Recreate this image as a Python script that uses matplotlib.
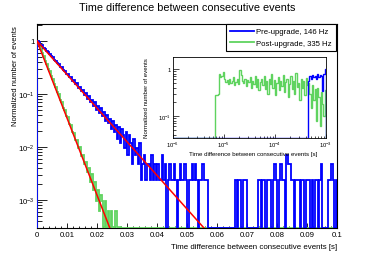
import numpy as np
import matplotlib
matplotlib.use("Agg")
import matplotlib.pyplot as plt
from matplotlib.lines import Line2D
from matplotlib.ticker import FixedLocator, NullFormatter, LogLocator

plt.rcParams['font.family'] = ['Liberation Sans', 'DejaVu Sans']
plt.rcParams['mathtext.fontset'] = 'custom'
plt.rcParams['mathtext.rm'] = 'Liberation Sans'
plt.rcParams['mathtext.it'] = 'Liberation Sans:italic'
plt.rcParams['mathtext.bf'] = 'Liberation Sans:bold'

# ---------------- data ----------------
title = "Time difference between consecutive events"
xlabel = "Time difference between consecutive events [s]"
ylabel = "Normalized number of events"
label_pre = "Pre-upgrade, 146 Hz"
label_post = "Post-upgrade, 335 Hz"

# main histograms: 200 bins of 0.5 ms from 0 to 0.1 s (raw counts)
pre_counts = [417, 392, 351, 344, 309, 292, 266, 254, 235, 219,
              204, 183, 176, 158, 155, 134, 133, 116, 115, 99,
              101, 86, 87, 73, 76, 64, 66, 54, 57, 47,
              49, 40, 44, 33, 38, 30, 32, 25, 29, 21,
              25, 18, 23, 16, 19, 13, 17, 12, 14, 9,
              13, 8, 11, 6, 10, 5, 9, 7, 4, 8,
              3, 7, 5, 2, 6, 3, 4, 2, 5, 1,
              2, 3, 1, 2, 2, 1, 3, 1, 2, 1,
              2, 1, 1, 3, 1, 2, 0, 1, 2, 1,
              1, 2, 1, 0, 1, 2, 1, 1, 2, 1,
              0, 1, 1, 2, 1, 2, 1, 0, 1, 1,
              2, 1, 1, 1, 0, 0, 0, 0, 0, 0,
              0, 0, 0, 0, 0, 0, 0, 0, 0, 0,
              0, 0, 1, 0, 1, 1, 0, 1, 1, 1,
              0, 0, 0, 0, 0, 0, 0, 1, 1, 0,
              1, 1, 0, 1, 1, 1, 0, 1, 2, 1,
              0, 1, 2, 1, 1, 0, 3, 2, 2, 1,
              1, 0, 1, 1, 1, 0, 1, 1, 0, 1,
              1, 1, 0, 1, 0, 1, 1, 0, 1, 2,
              0, 0, 0, 0, 1, 1, 2, 1, 0, 1]
post_counts = [3200, 2660, 2330, 1890, 1670, 1350, 1190, 960, 850, 690,
               612, 490, 440, 348, 318, 246, 226, 175, 162, 124,
               117, 88, 84, 62, 60, 44, 43, 31, 32, 22,
               23, 15, 17, 11, 13, 7, 10, 5, 7, 3,
               5, 2, 4, 3, 1, 3, 0, 2, 1, 2,
               1, 0, 2, 1, 0, 1, 0, 0, 0, 0] + [0] * 140

# fitted exponentials (start/end points; straight lines on log scale)
fit_pre_t = [0.0, 0.06]
fit_pre_y = [1.0, 1.57e-4]
fit_post_t = [0.0, 0.026]
fit_post_y = [1.0, 1.66e-4]

# inset: 120 log bins from 1e-6 to 1e-3 s (normalized)
inset_post = ([0.0] * 33 +
              [0.28, 0.28, 0.29,
               0.78, 0.66, 0.72, 0.86, 0.60, 0.52,
               0.58, 0.47, 0.62, 0.50, 0.55, 0.68, 0.45, 0.52, 0.60, 0.48, 0.95, 0.74, 0.56, 0.50,
               0.62, 0.44, 0.58, 0.52, 0.66, 0.40, 0.55, 0.48, 0.70, 0.42, 0.60, 0.35, 0.52, 0.62,
               0.45, 0.72, 0.38, 0.55, 0.30, 0.62, 0.48, 0.80, 0.40, 0.58, 0.28, 0.50, 0.68, 0.36, 0.55, 0.44,
               0.75, 0.32, 0.52, 0.60, 0.25, 0.48, 0.70, 0.38, 0.56, 0.30, 0.82, 0.42, 0.50, 0.22, 0.62, 0.40,
               0.55, 0.28, 0.65, 0.45,
               0.50, 0.30, 0.15, 0.45, 0.22, 0.38, 0.08, 0.40, 0.25, 0.06, 0.32, 0.18, 0.10, 0.35])
inset_pre = ([0.0] * 106 +
             [0.55, 0.70, 0.62, 0.74, 0.66, 0.72, 0.60, 0.78, 0.68, 0.75, 0.70, 0.34, 0.80, 1.0])

main_ticks_y = [1e-3, 1e-2, 1e-1, 1]
main_ticklabels_y = ['$10^{-3}$', '$10^{-2}$', '$10^{-1}$', '1']
main_ticks_x = [0, 0.01, 0.02, 0.03, 0.04, 0.05, 0.06, 0.07, 0.08, 0.09, 0.1]
main_ticklabels_x = ['0', '0.01', '0.02', '0.03', '0.04', '0.05', '0.06', '0.07', '0.08', '0.09', '0.1']
inset_ticks_x = [1e-6, 1e-5, 1e-4, 1e-3]
inset_ticklabels_x = ['$10^{-6}$', '$10^{-5}$', '$10^{-4}$', '$10^{-3}$']
inset_ticks_y = [1e-1, 1]
inset_ticklabels_y = ['$10^{-1}$', '1']

# ---------------- styles ----------------
BLUE = '#0000ff'
GREEN = '#5fd35f'
RED = '#ff0000'
W, H = 374, 255
MAIN_YMIN, MAIN_YMAX = 2.96e-4, 2.09
INS_YMIN, INS_YMAX = 0.034, 1.8

fig = plt.figure(figsize=(W / 100, H / 100), dpi=100)
fig.patch.set_facecolor('white')

# main axes
ax = fig.add_axes([37 / W, 1 - 229 / H, 300 / W, 204 / H])
edges = np.linspace(0, 0.1, len(pre_counts) + 1)
pre_norm = np.array(pre_counts, float) / pre_counts[0]
post_norm = np.array(post_counts, float) / post_counts[0]
pre_plot = np.maximum(pre_norm, MAIN_YMIN)
post_plot = np.maximum(post_norm, MAIN_YMIN)

ax.stairs(post_plot, edges, baseline=MAIN_YMIN, color=GREEN, lw=1.3, zorder=3)
ax.stairs(pre_plot, edges, baseline=MAIN_YMIN, color=BLUE, lw=1.3, zorder=3.2)
ax.plot(fit_pre_t, fit_pre_y, color=RED, lw=1.1, zorder=4)
ax.plot(fit_post_t, fit_post_y, color=RED, lw=1.1, zorder=4)

ax.set_yscale('log')
ax.set_xlim(0, 0.1)
ax.set_ylim(MAIN_YMIN, MAIN_YMAX)
ax.set_xticks(main_ticks_x)
ax.set_xticklabels(main_ticklabels_x)
ax.xaxis.set_minor_locator(FixedLocator(np.arange(0, 0.1001, 0.002)))
ax.set_yticks(main_ticks_y)
ax.set_yticklabels(main_ticklabels_y)
ax.yaxis.set_minor_locator(LogLocator(base=10, subs=np.arange(2, 10)))
ax.yaxis.set_minor_formatter(NullFormatter())
ax.tick_params(which='both', direction='in', top=False, right=False, width=0.6, labelsize=5.6)
ax.tick_params(axis='x', which='major', length=3.6, pad=2)
ax.tick_params(axis='x', which='minor', length=1.8)
ax.tick_params(axis='y', which='major', length=7, pad=1.5)
ax.tick_params(axis='y', which='minor', length=3.6)
for s in ax.spines.values():
    s.set_linewidth(0.8)

fig.text(187 / W, 1 - 8 / H, title, ha='center', va='center', fontsize=7.8)
fig.text(337 / W, 1 - 248 / H, xlabel, ha='right', va='center', fontsize=5.7)
fig.text(16 / W, 1 - 26 / H, ylabel, ha='center', va='top', rotation=90, fontsize=5.5)

# legend
handles = [Line2D([], [], color=BLUE, lw=1.3), Line2D([], [], color=GREEN, lw=1.3)]
leg = fig.legend(handles, [label_pre, label_post], loc='upper right',
                 bbox_to_anchor=(336 / W, 1 - 25 / H), bbox_transform=fig.transFigure,
                 borderaxespad=0, frameon=True, fancybox=False, edgecolor='black',
                 framealpha=1, fontsize=5.6, handlelength=3.1, handletextpad=0.35,
                 borderpad=0.5, labelspacing=0.55)
leg.get_frame().set_linewidth(0.8)

# inset
ax2 = fig.add_axes([173 / W, 1 - 139 / H, 153 / W, 81 / H])
ax2.set_facecolor('white')
iedges = np.logspace(-6, -3, len(inset_post) + 1)
ipost = np.maximum(np.array(inset_post, float), INS_YMIN)
ipre = np.maximum(np.array(inset_pre, float), INS_YMIN)
ax2.stairs(ipost, iedges, baseline=INS_YMIN, color=GREEN, lw=1.0, zorder=3)
ax2.stairs(ipre, iedges, baseline=INS_YMIN, color=BLUE, lw=1.0, zorder=3.2)
ax2.set_xscale('log')
ax2.set_yscale('log')
ax2.set_xlim(1e-6, 1e-3)
ax2.set_ylim(INS_YMIN, INS_YMAX)
ax2.set_xticks(inset_ticks_x)
ax2.set_xticklabels(inset_ticklabels_x)
ax2.set_yticks(inset_ticks_y)
ax2.set_yticklabels(inset_ticklabels_y)
ax2.xaxis.set_minor_locator(LogLocator(base=10, subs=np.arange(2, 10)))
ax2.xaxis.set_minor_formatter(NullFormatter())
ax2.yaxis.set_minor_locator(LogLocator(base=10, subs=np.arange(2, 10)))
ax2.yaxis.set_minor_formatter(NullFormatter())
ax2.tick_params(which='both', direction='in', top=False, right=False, width=0.5, labelsize=4.2)
ax2.tick_params(axis='x', which='major', length=3, pad=1.5)
ax2.tick_params(axis='x', which='minor', length=1.5)
ax2.tick_params(axis='y', which='major', length=4, pad=1.2)
ax2.tick_params(axis='y', which='minor', length=2)
for s in ax2.spines.values():
    s.set_linewidth(0.6)
fig.text(317 / W, 1 - 155 / H, xlabel, ha='right', va='center', fontsize=4.4)
fig.text(147 / W, 1 - 58 / H, ylabel, ha='center', va='top', rotation=90, fontsize=4.4)

fig.savefig('out.png', dpi=100)
